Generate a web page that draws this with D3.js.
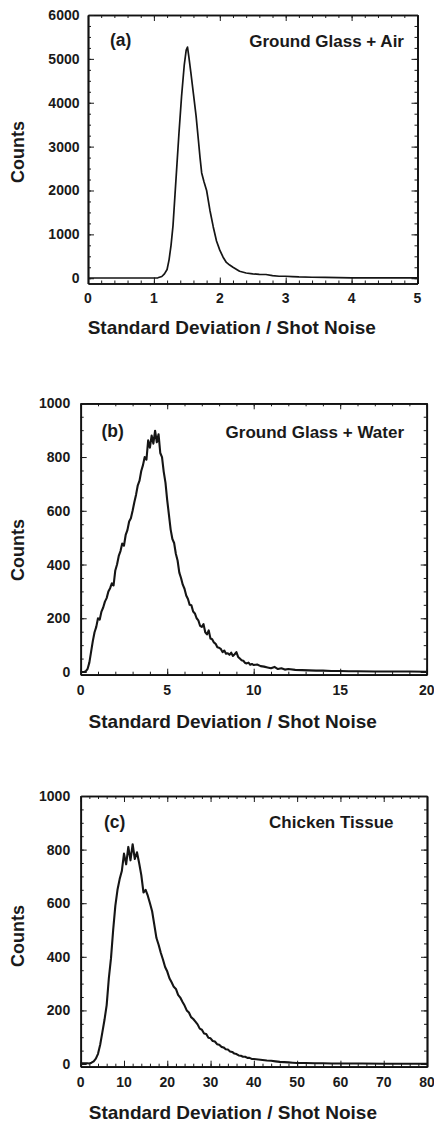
<!DOCTYPE html>
<html>
<head>
<meta charset="utf-8">
<script src="https://cdn.jsdelivr.net/npm/d3@7"></script>
<style>
  html, body { margin: 0; padding: 0; background: #fff; }
  svg { display: block; }
  text { font-family: "Liberation Sans", Arial, Helvetica, sans-serif; font-weight: bold; fill: #1a1a1a; }
</style>
</head>
<body>
<svg id="chart" width="434" height="1124"></svg>
<script>
// ---------- Panel (a): Ground Glass + Air ----------
const aX = [0, 0.5, 1.0, 1.06, 1.12, 1.16, 1.2, 1.23, 1.26, 1.29, 1.32, 1.35, 1.38, 1.42, 1.46, 1.49, 1.51, 1.53, 1.56, 1.6, 1.64, 1.675, 1.7, 1.725, 1.76, 1.8, 1.85, 1.9, 1.95, 2.0, 2.05, 2.1, 2.15, 2.2, 2.3, 2.4, 2.5, 2.6, 2.7, 2.8, 2.9, 3.0, 3.1, 3.2, 3.4, 3.6, 3.8, 4.0, 4.5, 5.0];
const aY = [5, 5, 5, 10, 40, 100, 200, 420, 750, 1200, 1900, 2600, 3300, 4150, 4850, 5200, 5270, 5050, 4700, 4200, 3700, 3150, 2750, 2400, 2200, 2000, 1550, 1175, 850, 640, 480, 360, 300, 250, 160, 120, 100, 90, 85, 60, 45, 45, 38, 30, 22, 18, 12, 10, 8, 6];

// ---------- Panel (b): Ground Glass + Water ----------
const bX = [0.0,0.1,0.2,0.3,0.4,0.5,0.6,0.7,0.8,0.9,1.0,1.1,1.2,1.3,1.4,1.5,1.6,1.7,1.8,1.9,2.0,2.1,2.2,2.3,2.4,2.5,2.6,2.7,2.8,2.9,3.0,3.1,3.2,3.3,3.4,3.5,3.6,3.7,3.8,3.9,4.0,4.1,4.2,4.3,4.4,4.5,4.6,4.7,4.8,4.9,5.0,5.1,5.2,5.3,5.4,5.5,5.6,5.7,5.8,5.9,6.0,6.1,6.2,6.3,6.4,6.5,6.6,6.7,6.8,6.9,7.0,7.1,7.2,7.3,7.4,7.5,7.6,7.7,7.8,7.9,8.0,8.1,8.2,8.3,8.4,8.5,8.6,8.7,8.8,8.9,9.0,9.1,9.2,9.3,9.4,9.5,9.6,9.7,9.8,9.9,10.0,10.2,10.4,10.6,10.8,11.0,11.2,11.4,11.6,11.8,12.0,12.4,12.8,13.2,13.6,14.0,14.5,15.0,15.5,16.0,17.0,18.0,19.0,20.0];
const bY = [0,0,0,3,12,35,75,115,148,168,200,195,225,240,262,275,300,312,330,322,378,400,432,450,478,470,510,528,560,572,600,632,660,695,712,748,770,800,790,862,835,880,850,898,855,885,815,800,745,705,640,585,530,495,480,440,415,370,350,325,310,285,272,250,248,225,218,200,192,172,168,178,148,140,155,125,122,110,105,92,90,86,74,80,68,70,64,72,60,66,74,56,50,44,42,34,32,35,27,30,26,28,22,20,17,14,19,11,14,9,11,8,7,6,5,5,4,4,3,3,2,2,2,1];

// ---------- Panel (c): Chicken Tissue ----------
const cX = [0,0.5,1,1.5,2,2.5,3,3.5,4,4.5,5,5.5,6,6.5,7,7.5,8,8.5,9,9.5,10,10.5,11,11.5,12,12.5,13,13.5,14,14.5,15,15.5,16,16.5,17,17.5,18,18.5,19,19.5,20,20.5,21,21.5,22,22.5,23,23.5,24,24.5,25,25.5,26,26.5,27,27.5,28,28.5,29,29.5,30,30.5,31,31.5,32,32.5,33,33.5,34,34.5,35,35.5,36,36.5,37,37.5,38,38.5,39,39.5,40,41,42,43,44,45,46,47,48,49,50,52,54,56,58,60,65,70,75,80];
const cY = [3,3,3,3,2,5,10,20,38,72,118,165,220,320,395,500,590,650,690,720,785,745,810,760,820,765,790,750,705,640,650,628,600,570,520,470,445,415,390,362,345,320,305,288,280,258,248,232,218,200,192,175,168,158,148,132,128,114,112,98,96,86,84,74,72,64,62,55,54,47,45,39,37,32,31,27,27,23,23,19,19,17,15,13,12,10,8,7,6,5,4,4,3,3,2,2,2,1,1,1];

// ---------- Tick values ----------
const aXTicks = [0, 1, 2, 3, 4, 5];
const aYTicks = [0, 1000, 2000, 3000, 4000, 5000, 6000];
const bXTicks = [0, 5, 10, 15, 20];
const bYTicks = [0, 200, 400, 600, 800, 1000];
const cXTicks = [0, 10, 20, 30, 40, 50, 60, 70, 80];
const cYTicks = [0, 200, 400, 600, 800, 1000];

const labels = ["(a)", "(b)", "(c)"];
const titles = ["Ground Glass + Air", "Ground Glass + Water", "Chicken Tissue"];
const xTitle = "Standard Deviation / Shot Noise";
const yTitle = "Counts";

const svg = d3.select("#chart");

const panels = [
  { xs: aX, ys: aY, xDom: [0, 5], yDom: [-120, 6000], xR: [88, 417.5], yR: [283.5, 15],
    xT: aXTicks, yT: aYTicks, xMinor: 0.2, yMinor: 250, lw: 1.7,
    lab: labels[0], title: titles[0], labX: 110, labY: 46, titleR: 404, titleY: 47,
    xLabY: 303, xTitleY: 334, yLabOff: 8.5, yTitleY: 152 },
  { xs: bX, ys: bY, xDom: [0, 20], yDom: [-10, 1000], xR: [80.7, 426.7], yR: [674.7, 403.3],
    xT: bXTicks, yT: bYTicks, xMinor: 1, yMinor: 50, lw: 2.1,
    lab: labels[1], title: titles[1], labX: 101.5, labY: 437, titleR: 404, titleY: 438,
    xLabY: 695, xTitleY: 727.5, yLabOff: 10.5, yTitleY: 550 },
  { xs: cX, ys: cY, xDom: [0, 80], yDom: [-10, 1000], xR: [80.7, 427], yR: [1066.7, 796],
    xT: cXTicks, yT: cYTicks, xMinor: 2, yMinor: 50, lw: 2.1,
    lab: labels[2], title: titles[2], labX: 104, labY: 828, titleR: 393.5, titleY: 828,
    xLabY: 1087, xTitleY: 1118.5, yLabOff: 10.5, yTitleY: 936 }
];

function minorTicks(dom, step) {
  const out = [];
  const start = Math.ceil(dom[0] / step);
  const end = Math.floor(dom[1] / step + 1e-9);
  for (let i = start; i <= end; i++) out.push(+(i * step).toFixed(6));
  return out;
}

panels.forEach(p => {
  const x = d3.scaleLinear().domain(p.xDom).range(p.xR);
  const y = d3.scaleLinear().domain(p.yDom).range(p.yR);
  const g = svg.append("g");
  const x0 = p.xR[0], x1 = p.xR[1], y0 = p.yR[0], y1 = p.yR[1];

  const xMin = minorTicks(p.xDom, p.xMinor);
  const yMin = minorTicks([0, p.yDom[1]], p.yMinor);

  const styleAxis = sel => {
    sel.selectAll("path.domain").attr("stroke", "#111").attr("stroke-width", 1.7);
    sel.selectAll(".tick line").attr("stroke", "#1a1a1a").attr("stroke-width", 1);
    sel.selectAll(".tick text").remove();
  };

  // minor ticks on all four sides
  g.append("g").attr("transform", `translate(0,${y0})`)
    .call(d3.axisBottom(x).tickValues(xMin).tickSize(-3).tickSizeOuter(0)).call(styleAxis);
  g.append("g").attr("transform", `translate(0,${y1})`)
    .call(d3.axisTop(x).tickValues(xMin).tickSize(-3).tickSizeOuter(0)).call(styleAxis);
  g.append("g").attr("transform", `translate(${x0},0)`)
    .call(d3.axisLeft(y).tickValues(yMin).tickSize(-3).tickSizeOuter(0)).call(styleAxis);
  g.append("g").attr("transform", `translate(${x1},0)`)
    .call(d3.axisRight(y).tickValues(yMin).tickSize(-3).tickSizeOuter(0)).call(styleAxis);
  // major ticks
  g.append("g").attr("transform", `translate(0,${y0})`)
    .call(d3.axisBottom(x).tickValues(p.xT).tickSize(-6).tickSizeOuter(0)).call(styleAxis);
  g.append("g").attr("transform", `translate(0,${y1})`)
    .call(d3.axisTop(x).tickValues(p.xT).tickSize(-6).tickSizeOuter(0)).call(styleAxis);
  g.append("g").attr("transform", `translate(${x0},0)`)
    .call(d3.axisLeft(y).tickValues(p.yT).tickSize(-6).tickSizeOuter(0)).call(styleAxis);
  g.append("g").attr("transform", `translate(${x1},0)`)
    .call(d3.axisRight(y).tickValues(p.yT).tickSize(-6).tickSizeOuter(0)).call(styleAxis);

  // tick labels
  g.selectAll("text.xl").data(p.xT).join("text").attr("class", "xl")
    .attr("x", d => x(d)).attr("y", p.xLabY).attr("text-anchor", "middle")
    .attr("font-size", 14).text(d => d);
  g.selectAll("text.yl").data(p.yT).join("text").attr("class", "yl")
    .attr("x", x0 - p.yLabOff).attr("y", d => y(d) + 5).attr("text-anchor", "end")
    .attr("font-size", 14).text(d => d);

  // data line
  const pts = p.xs.map((v, i) => [v, p.ys[i]]);
  g.append("path").datum(pts)
    .attr("fill", "none").attr("stroke", "#151515").attr("stroke-width", p.lw)
    .attr("stroke-linejoin", "round")
    .attr("d", d3.line().x(d => x(d[0])).y(d => y(d[1])));

  // annotations
  g.append("text").attr("x", p.labX).attr("y", p.labY).attr("font-size", 17.5).text(p.lab);
  g.append("text").attr("x", p.titleR).attr("y", p.titleY).attr("text-anchor", "end")
    .attr("font-size", 17).text(p.title);

  // axis titles
  g.append("text").attr("x", (x0 + x1) / 2 - 21).attr("y", p.xTitleY).attr("text-anchor", "middle")
    .attr("font-size", 19).text(xTitle);
  g.append("text").attr("transform", `translate(24,${p.yTitleY}) rotate(-90)`)
    .attr("text-anchor", "middle").attr("font-size", 18).text(yTitle);
});
</script>
</body>
</html>
